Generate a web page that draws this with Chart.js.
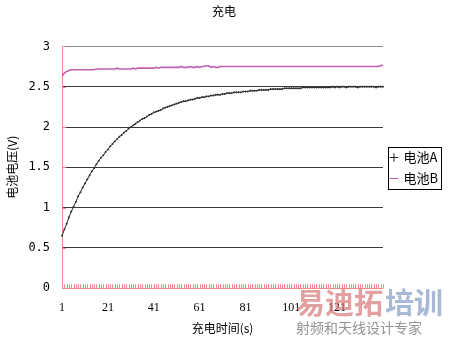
<!DOCTYPE html>
<html>
<head>
<meta charset="utf-8">
<script src="https://cdn.jsdelivr.net/npm/chart.js@4/dist/chart.umd.min.js"></script>
<style>
  body { margin: 0; background: #fff; }
</style>
</head>
<body>
<canvas id="linechart" width="450" height="338"></canvas>
<script>
/* Data */
// charging time in seconds, one sample per second
const times = Array.from({length: 141}, (_, i) => i + 1);
const shownTicks = [1, 21, 41, 61, 81, 101, 121];

const batteryA = [
  0.65,0.73,0.80,0.88,0.95,1.01,1.07,1.14,1.19,1.25,
  1.30,1.35,1.40,1.45,1.49,1.54,1.58,1.62,1.65,1.69,
  1.72,1.76,1.79,1.82,1.85,1.88,1.90,1.93,1.95,1.98,
  2.00,2.02,2.04,2.06,2.08,2.10,2.11,2.13,2.15,2.16,
  2.18,2.19,2.20,2.21,2.23,2.24,2.25,2.26,2.27,2.28,
  2.29,2.30,2.31,2.32,2.32,2.33,2.34,2.34,2.35,2.36,
  2.36,2.37,2.37,2.38,2.38,2.39,2.39,2.40,2.40,2.40,
  2.41,2.41,2.42,2.42,2.42,2.43,2.43,2.43,2.43,2.44,
  2.44,2.44,2.45,2.45,2.45,2.45,2.46,2.46,2.46,2.46,
  2.46,2.47,2.47,2.47,2.47,2.47,2.47,2.48,2.48,2.48,
  2.48,2.48,2.48,2.48,2.48,2.49,2.49,2.49,2.49,2.49,
  2.49,2.49,2.49,2.49,2.49,2.49,2.49,2.49,2.50,2.49,
  2.50,2.49,2.50,2.50,2.49,2.50,2.50,2.50,2.50,2.49,
  2.50,2.50,2.50,2.50,2.50,2.50,2.50,2.49,2.50,2.50,2.50
];

const batteryB = [
  2.63,2.67,2.69,2.70,2.71,2.71,2.71,2.71,2.71,2.71,
  2.71,2.71,2.71,2.71,2.71,2.72,2.72,2.72,2.72,2.72,
  2.72,2.72,2.72,2.72,2.73,2.72,2.72,2.72,2.72,2.72,
  2.72,2.73,2.72,2.73,2.73,2.73,2.73,2.73,2.73,2.73,
  2.73,2.74,2.73,2.74,2.74,2.74,2.74,2.74,2.74,2.74,
  2.74,2.74,2.75,2.74,2.74,2.74,2.75,2.74,2.74,2.75,
  2.74,2.75,2.75,2.76,2.76,2.74,2.75,2.74,2.74,2.75,
  2.75,2.75,2.75,2.75,2.75,2.75,2.75,2.75,2.75,2.75,
  2.75,2.75,2.75,2.75,2.75,2.75,2.75,2.75,2.75,2.75,
  2.75,2.75,2.75,2.75,2.75,2.75,2.75,2.75,2.75,2.75,
  2.75,2.75,2.75,2.75,2.75,2.75,2.75,2.75,2.75,2.75,
  2.75,2.75,2.75,2.75,2.75,2.75,2.75,2.75,2.75,2.75,
  2.75,2.75,2.75,2.75,2.75,2.75,2.75,2.75,2.75,2.75,
  2.75,2.75,2.75,2.75,2.75,2.75,2.75,2.75,2.75,2.76,2.77
];

const FONT = "'Noto Sans CJK SC', 'DejaVu Sans', sans-serif";
const AXIS_PINK = '#f08a8a';

// Draws the inward tick marks, legend frame and the watermark
const extras = {
  id: 'extras',
  afterDraw(chart) {
    const ctx = chart.ctx;
    const x = chart.scales.x, y = chart.scales.y;
    const area = chart.chartArea;
    ctx.save();
    ctx.strokeStyle = AXIS_PINK;
    ctx.lineWidth = 1;
    ctx.beginPath();
    times.forEach((t, i) => {
      const px = Math.round(x.getPixelForValue(i)) + 0.5;
      ctx.moveTo(px, area.bottom);
      ctx.lineTo(px, area.bottom - 4);
    });
    y.ticks.forEach((tk) => {
      const py = Math.round(y.getPixelForValue(tk.value)) + 0.5;
      ctx.moveTo(area.left, py);
      ctx.lineTo(area.left + 4, py);
    });
    ctx.stroke();

    // legend frame
    const boxes = chart.legend.legendHitBoxes;
    if (boxes.length) {
      const l = boxes[0].left - 3;
      const t = boxes[0].top - 4;
      const r = Math.max(...boxes.map(b => b.left + b.width)) + 3;
      const b = boxes[boxes.length - 1].top + boxes[boxes.length - 1].height + 4;
      ctx.strokeStyle = '#000';
      ctx.strokeRect(Math.round(l) + 0.5, Math.round(t) + 0.5, Math.round(r - l), Math.round(b - t));
    }

    // watermark
    ctx.font = "bold 29px " + FONT;
    ctx.textBaseline = 'alphabetic';
    ctx.textAlign = 'left';
    ctx.fillStyle = 'rgba(214,120,120,0.7)';
    ctx.fillText('易迪拓', 296, 314);
    ctx.fillStyle = 'rgba(130,155,195,0.7)';
    ctx.fillText('培训', 385, 314);
    ctx.font = "14px " + FONT;
    ctx.fillStyle = 'rgba(120,120,120,0.8)';
    ctx.fillText('射频和天线设计专家', 296, 333);
    ctx.restore();
  }
};

new Chart('linechart', {
  type: 'line',
  data: {
    labels: times,
    datasets: [{
      label: '电池A',
      data: batteryA,
      borderColor: '#222',
      borderWidth: 1,
      pointStyle: 'cross',
      pointRadius: 1,
      pointBorderColor: '#333',
      pointBorderWidth: 1,
      fill: false,
      tension: 0
    }, {
      label: '电池B',
      data: batteryB,
      borderColor: '#c060b0',
      borderWidth: 1.6,
      pointStyle: 'line',
      pointRadius: 0,
      fill: false,
      tension: 0
    }]
  },
  options: {
    responsive: false,
    animation: false,
    layout: { padding: { top: 0, right: 2, bottom: 2, left: 0 } },
    plugins: {
      title: {
        display: true,
        text: '充电',
        color: '#000',
        font: { family: FONT, size: 12, weight: 'normal' },
        padding: { top: 4, bottom: 28 }
      },
      legend: {
        position: 'right',
        labels: {
          color: '#000',
          font: { family: FONT, size: 13 },
          usePointStyle: true,
          boxWidth: 6,
          boxHeight: 6,
          padding: 8,
          generateLabels(chart) {
            return chart.data.datasets.map((ds, i) => ({
              text: ds.label,
              datasetIndex: i,
              pointStyle: i === 0 ? 'cross' : 'line',
              strokeStyle: ds.borderColor,
              fillStyle: ds.borderColor,
              lineWidth: 1,
              fontColor: '#000'
            }));
          }
        }
      },
      tooltip: { enabled: false }
    },
    scales: {
      x: {
        offset: false,
        border: { color: AXIS_PINK, width: 1 },
        grid: { display: false, drawTicks: false },
        ticks: {
          autoSkip: false,
          maxRotation: 0,
          color: '#000',
          padding: 12,
          font: { family: "'Liberation Serif', serif", size: 12 },
          callback(value, index) {
            const t = times[index];
            return shownTicks.includes(t) ? String(t) : '';
          }
        },
        title: {
          display: true,
          text: '充电时间(s)',
          color: '#000',
          font: { family: FONT, size: 12 },
          padding: { top: -5, bottom: 0 }
        }
      },
      y: {
        min: 0,
        max: 3,
        border: { color: AXIS_PINK, width: 1 },
        grid: {
          drawTicks: false,
          color: (c) => c.tick && c.tick.value === 3 ? '#8a8a8a' : '#3a3a3a',
          lineWidth: 1
        },
        ticks: {
          stepSize: 0.5,
          color: '#000',
          padding: 12,
          font: { family: "'DejaVu Sans Mono', monospace", size: 12 },
          callback: (v) => String(v)
        },
        title: {
          display: true,
          text: '电池电压(V)',
          color: '#000',
          font: { family: FONT, size: 12 },
          padding: { top: 5, bottom: -3 }
        }
      }
    }
  },
  plugins: [extras]
});
</script>
</body>
</html>
